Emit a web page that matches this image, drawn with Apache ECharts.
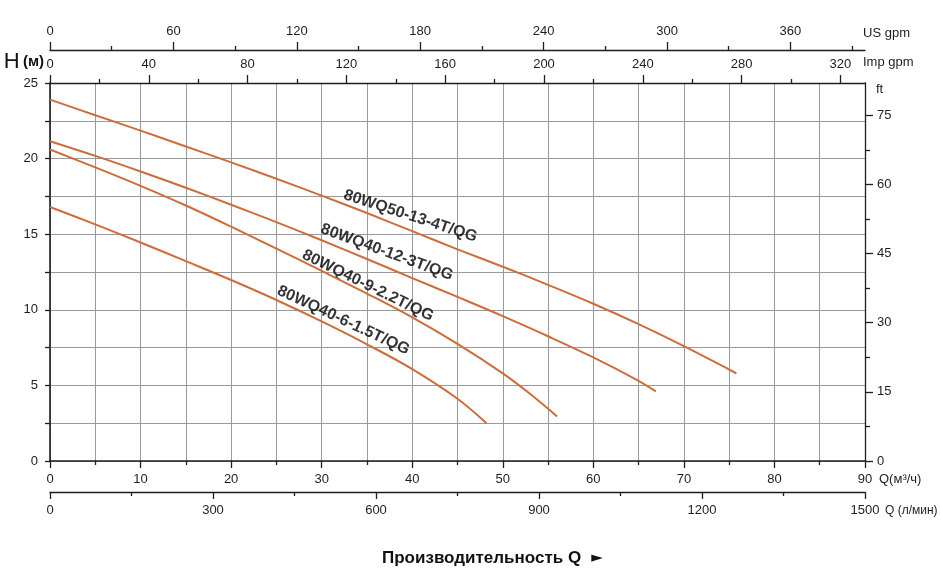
<!DOCTYPE html>
<html>
<head>
<meta charset="utf-8">
<title>80WQ curves</title>
<script src="https://cdn.jsdelivr.net/npm/echarts/dist/echarts.min.js"></script>
<style>
  html, body { margin: 0; padding: 0; background: #fff; }
  #chart { width: 941px; height: 573px; }
</style>
</head>
<body>
<div id="chart"></div>
<script>
// curve names
const curveNames = ['80WQ50-13-4T/QG', '80WQ40-12-3T/QG', '80WQ40-9-2.2T/QG', '80WQ40-6-1.5T/QG'];

// Q (m3/h) and H (m)
const q1 = [0, 5, 10, 15, 20, 25, 30, 35, 40, 45, 50, 55, 60, 65, 70, 75, 75.8];
const h1 = [23.9, 22.87, 21.85, 20.8, 19.75, 18.67, 17.55, 16.4, 15.2, 14.0, 12.85, 11.65, 10.4, 9.05, 7.6, 6.05, 5.8];
const q2 = [0, 5, 10, 15, 20, 25, 30, 35, 40, 45, 50, 55, 60, 65, 66.9];
const h2 = [21.15, 20.18, 19.15, 18.07, 16.95, 15.8, 14.6, 13.36, 12.1, 10.85, 9.58, 8.25, 6.85, 5.3, 4.6];
const q3 = [0, 5, 10, 15, 20, 25, 30, 35, 40, 45, 50, 53, 56];
const h3 = [20.6, 19.42, 18.2, 16.9, 15.5, 14.05, 12.57, 11.07, 9.5, 7.75, 5.8, 4.45, 2.95];
const q4 = [0, 5, 10, 15, 20, 25, 30, 35, 40, 45, 48.2];
const h4 = [16.8, 15.65, 14.45, 13.22, 11.97, 10.65, 9.23, 7.72, 6.08, 4.12, 2.5];

// where the curve names sit (Q, H)
const labelQ = [39.8, 37.2, 35.1, 32.4];
const labelH = [16.2, 13.8, 11.6, 9.3];

// tick labels of the extra scales
const usGpmMajor = [0, 60, 120, 180, 240, 300, 360];
const usGpmMinor = [30, 90, 150, 210, 270, 330, 390];
const impGpmMajor = [0, 40, 80, 120, 160, 200, 240, 280, 320];
const impGpmMinor = [20, 60, 100, 140, 180, 220, 260, 300];
const ftMajor = [0, 15, 30, 45, 60, 75];
const ftMinor = [7.5, 22.5, 37.5, 52.5, 67.5];

const Q_MAX = 90;       // m3/h
const H_MAX = 25;       // m
const LPM_MAX = 1500;   // l/min = 90 m3/h
const USGPM_MAX = Q_MAX / 0.227124707;
const IMPGPM_MAX = Q_MAX / 0.272765;
const FT_MAX = H_MAX / 0.3048;

const FONT = "'Liberation Sans', Arial, Helvetica, sans-serif";
const INK = '#1e1e1e';
const GRID = '#9a9a9a';
const CURVE = '#cd6d3a';

// axis that only draws a line, ticks and labels at given values
function scaleAxis(o) {
  return {
    type: 'value',
    position: o.position,
    offset: o.offset || 0,
    min: 0,
    max: o.max,
    splitLine: { show: false },
    axisLine: { show: o.line !== false, onZero: false, lineStyle: { color: INK, width: 1.3 } },
    axisTick: { show: true, customValues: o.ticks, length: o.tickLen, lineStyle: { color: INK, width: 1.3 } },
    axisLabel: o.labels
      ? { show: true, customValues: o.labels, margin: 12, fontSize: 13, color: INK, formatter: (v) => String(v) }
      : { show: false },
    name: o.name || '',
    nameLocation: 'end',
    nameGap: o.nameGap || 0,
    nameMoveOverlap: false,
    nameTextStyle: o.nameStyle || {},
  };
}

const chart = echarts.init(document.getElementById('chart'), null, { renderer: 'canvas' });

const curves = [[q1, h1], [q2, h2], [q3, h3], [q4, h4]];
const lineSeries = curves.map((c, i) => ({
  name: curveNames[i],
  type: 'line',
  xAxisIndex: 0,
  yAxisIndex: 0,
  smooth: 0.35,
  symbol: 'none',
  lineStyle: { color: CURVE, width: 2 },
  data: c[0].map((q, k) => [q, c[1][k]]),
}));

const labelAngles = [-18, -20, -26, -25];

const option = {
  animation: false,
  textStyle: { fontFamily: FONT },
  title: {
    text: '{t|Производительность Q}  {a|►}',
    left: 377,
    top: 544,
    textStyle: {
      rich: {
        t: { fontSize: 17, fontWeight: 'bold', color: '#111', fontFamily: FONT },
        a: { fontSize: 15, color: '#111', fontFamily: 'DejaVu Sans' },
      },
    },
  },
  grid: { left: 50, right: 76, top: 83, bottom: 112, containLabel: false, outerBoundsMode: 'none' },
  xAxis: [
    {
      type: 'value',
      position: 'bottom',
      min: 0,
      max: Q_MAX,
      interval: 10,
      axisLine: { onZero: false, lineStyle: { color: INK, width: 1.6 } },
      axisTick: { length: 7, lineStyle: { color: INK, width: 1.3 } },
      minorTick: { show: true, splitNumber: 2, length: 4, lineStyle: { color: INK, width: 1.3 } },
      splitLine: { show: true, lineStyle: { color: GRID, width: 1 } },
      minorSplitLine: { show: true, lineStyle: { color: GRID, width: 1 } },
      axisLabel: { margin: 12, fontSize: 13, color: INK },
      name: 'Q(м³/ч)',
      nameLocation: 'end',
      nameGap: 14,
      nameMoveOverlap: false,
      nameTextStyle: { fontSize: 13, color: INK, verticalAlign: 'top', padding: [12, 0, 0, 0] },
    },
    {
      type: 'value',
      position: 'bottom',
      offset: 31,
      min: 0,
      max: LPM_MAX,
      interval: 300,
      axisLine: { onZero: false, lineStyle: { color: INK, width: 1.3 } },
      axisTick: { length: 7, lineStyle: { color: INK, width: 1.3 } },
      minorTick: { show: true, splitNumber: 2, length: 4, lineStyle: { color: INK, width: 1.3 } },
      splitLine: { show: false },
      axisLabel: { margin: 12, fontSize: 13, color: INK, formatter: (v) => String(v) },
      name: 'Q (л/мин)',
      nameLocation: 'end',
      nameGap: 20,
      nameMoveOverlap: false,
      nameTextStyle: { fontSize: 12, color: INK, verticalAlign: 'top', padding: [13, 0, 0, 0] },
    },
    scaleAxis({
      position: 'top', offset: 33, max: USGPM_MAX, ticks: usGpmMajor, labels: usGpmMajor, tickLen: 8,
      name: 'US gpm', nameGap: -2,
      nameStyle: { fontSize: 13, color: INK, verticalAlign: 'bottom', padding: [0, 0, 10, 0] },
    }),
    scaleAxis({ position: 'top', offset: 33, max: USGPM_MAX, ticks: usGpmMinor, tickLen: 4, line: false }),
    scaleAxis({
      position: 'top', offset: 0, max: IMPGPM_MAX, ticks: impGpmMajor, labels: impGpmMajor, tickLen: 8,
      name: 'Imp gpm', nameGap: -2,
      nameStyle: { fontSize: 13, color: INK, verticalAlign: 'bottom', padding: [0, 0, 14, 0] },
    }),
    scaleAxis({ position: 'top', offset: 0, max: IMPGPM_MAX, ticks: impGpmMinor, tickLen: 4, line: false }),
  ],
  yAxis: [
    {
      type: 'value',
      position: 'left',
      min: 0,
      max: H_MAX,
      interval: 5,
      axisLine: { show: true, onZero: false, lineStyle: { color: INK, width: 1.6 } },
      axisTick: { show: true, length: 5, lineStyle: { color: INK, width: 1.3 } },
      minorTick: { show: true, splitNumber: 2, length: 5, lineStyle: { color: INK, width: 1.3 } },
      splitLine: { show: true, lineStyle: { color: GRID, width: 1 } },
      minorSplitLine: { show: true, lineStyle: { color: GRID, width: 1 } },
      axisLabel: { margin: 12, fontSize: 13, color: INK },
      name: '{h|H} {m|(м)}',
      nameLocation: 'end',
      nameGap: 10,
      nameMoveOverlap: false,
      nameTextStyle: {
        align: 'right',
        padding: [0, 6, 0, 0],
        rich: {
          h: { fontSize: 22, color: '#111', fontFamily: FONT },
          m: { fontSize: 15, fontWeight: 'bold', color: '#111', fontFamily: FONT },
        },
      },
    },
    scaleAxis({
      position: 'right', max: FT_MAX, ticks: ftMajor, labels: ftMajor, tickLen: 8,
      name: 'ft', nameGap: -13,
      nameStyle: { fontSize: 13, color: INK, align: 'left', padding: [0, 0, 0, 11] },
    }),
    scaleAxis({ position: 'right', max: FT_MAX, ticks: ftMinor, tickLen: 5, line: false }),
  ],
  series: lineSeries.concat([
    {
      name: 'labels',
      type: 'scatter',
      xAxisIndex: 0,
      yAxisIndex: 0,
      symbol: 'circle',
      symbolSize: 1,
      silent: true,
      itemStyle: { color: 'rgba(0,0,0,0)' },
      label: {
        show: true,
        position: 'inside',
        fontSize: 16,
        fontWeight: 'bold',
        color: '#000',
        formatter: (p) => curveNames[p.dataIndex],
      },
      data: labelQ.map((q, i) => ({
        value: [q, labelH[i]],
        label: { rotate: labelAngles[i] },
      })),
    },
  ]),
};

chart.setOption(option);
</script>
</body>
</html>
